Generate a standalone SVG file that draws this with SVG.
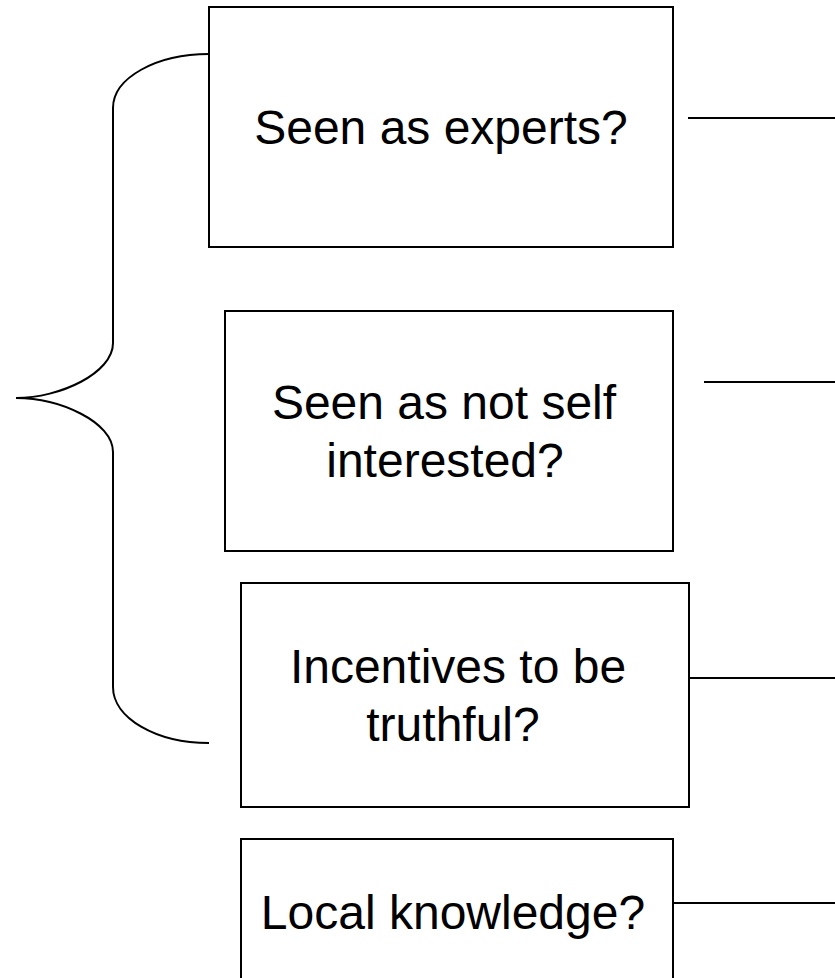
<svg xmlns="http://www.w3.org/2000/svg" width="835" height="978" viewBox="0 0 835 978">
<style>
.box{fill:#fff;stroke:#000;stroke-width:2}
.ln{fill:none;stroke:#000;stroke-width:2}
.t{font-family:"Liberation Sans",Arial,sans-serif;font-size:48px;fill:#000;text-anchor:middle}
</style>
<rect width="835" height="978" fill="#fff"/>
<g id="brace">
<path class="ln" d="M209,54 C156,54 113,78 113,108 L113,343 C113,373 60,398 16,398 C60,398 113,422 113,452 L113,687 C113,718 156,743 209,743"/>
</g>
<g id="connectors">
<line class="ln" x1="688" y1="118" x2="835" y2="118"/>
<line class="ln" x1="704" y1="382" x2="835" y2="382"/>
<line class="ln" x1="689" y1="678" x2="835" y2="678"/>
<line class="ln" x1="673" y1="903" x2="835" y2="903"/>
</g>
<g id="node1">
<rect class="box" x="209" y="7" width="464" height="240"/>
<text class="t" x="441" y="144">Seen as experts?</text>
</g>
<g id="node2">
<rect class="box" x="225" y="311" width="448" height="240"/>
<text class="t" x="444" y="419">Seen as not self</text>
<text class="t" x="445" y="477">interested?</text>
</g>
<g id="node3">
<rect class="box" x="241" y="583" width="448" height="224"/>
<text class="t" x="458" y="683">Incentives to be</text>
<text class="t" x="453" y="741">truthful?</text>
</g>
<g id="node4">
<rect class="box" x="241" y="839" width="432" height="160"/>
<text class="t" x="453" y="929">Local knowledge?</text>
</g>
</svg>
